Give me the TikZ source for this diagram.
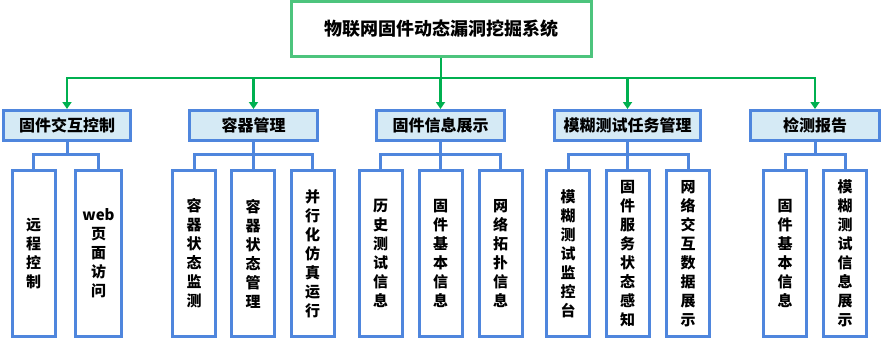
\documentclass[tikz,border=0pt]{standalone}
\usepackage{fontspec}
\setmainfont{Noto Sans CJK SC}
\usetikzlibrary{arrows.meta}
\definecolor{linegreen}{HTML}{00B050}
\definecolor{rootgreen}{HTML}{4DC47D}
\definecolor{boxblue}{HTML}{4F86DD}
\definecolor{fillblue}{HTML}{D5EAF5}
\begin{document}
\begin{tikzpicture}
[x=1pt,y=-1pt,
 root/.style={rectangle,draw=rootgreen,line width=3pt,fill=white,minimum width=300pt,minimum height=55pt,font=\fontsize{18}{20}\selectfont\bfseries},
 module/.style={rectangle,draw=boxblue,line width=3pt,fill=fillblue,minimum height=30pt,inner sep=0pt,font=\fontsize{16}{18}\selectfont\bfseries},
 leaf/.style={rectangle,draw=boxblue,line width=3pt,fill=white,minimum width=43pt,minimum height=166pt,inner sep=0pt,align=center,font=\fontsize{15}{19}\selectfont\bfseries},
 greenline/.style={linegreen,line width=2.5pt},
 greenarrow/.style={linegreen,line width=2.5pt,-{Triangle[width=9pt,length=7pt]}},
 bluelink/.style={boxblue,line width=3pt}]
\useasboundingbox (0,0) rectangle (882,340);
\node[root] (sys) at (441,28.5) {物联网固件动态漏洞挖掘系统};
\coordinate (bus) at (441,78);
\coordinate (branch) at (0,154);
% second level
\foreach \name/\x/\w/\txt in {m1/67/127/固件交互控制, m2/253.5/128/容器管理, m3/440.5/128/固件信息展示, m4/627.5/146/模糊测试任务管理, m5/815/129/检测报告}
{
  \node[module,minimum width=\w pt] (\name) at (\x,125.5) {\txt};
}
\draw[greenline] (sys.south) -- (bus);
\draw[greenline,line cap=rect] (m1.north |- bus) -- (m5.north |- bus);
\foreach \m in {m1,m2,m3,m4,m5}
{
  \draw[greenarrow] (\m.north |- bus) -- (\m.north);
}
% third level
\foreach \name/\x/\parent/\txt in {l11/33.5/m1/远\\程\\控\\制, l21/194/m2/容\\器\\状\\态\\监\\测, l22/253/m2/容\\器\\状\\态\\管\\理, l23/312.5/m2/并\\行\\化\\仿\\真\\运\\行, l31/380.5/m3/历\\史\\测\\试\\信\\息, l32/440.5/m3/固\\件\\基\\本\\信\\息, l33/500.5/m3/网\\络\\拓\\扑\\信\\息, l41/568/m4/模\\糊\\测\\试\\监\\控\\台, l42/627.5/m4/固\\件\\服\\务\\状\\态\\感\\知, l43/688/m4/网\\络\\交\\互\\数\\据\\展\\示, l51/785/m5/固\\件\\基\\本\\信\\息, l52/845/m5/模\\糊\\测\\试\\信\\息\\展\\示}
{
  \node[leaf] (\name) at (\x,253.5) {\txt};
  \draw[bluelink] (\name.north) |- (\parent.south |- branch);
}
\node[leaf,minimum width=46pt] (l12) at (98.5,253.5) {web\\页\\面\\访\\问};
\draw[bluelink] (l12.north) |- (m1.south |- branch);
\foreach \m in {m1,m2,m3,m4,m5}
{
  \draw[bluelink] (\m.south) -- (\m.south |- branch);
}
\end{tikzpicture}
\end{document}
